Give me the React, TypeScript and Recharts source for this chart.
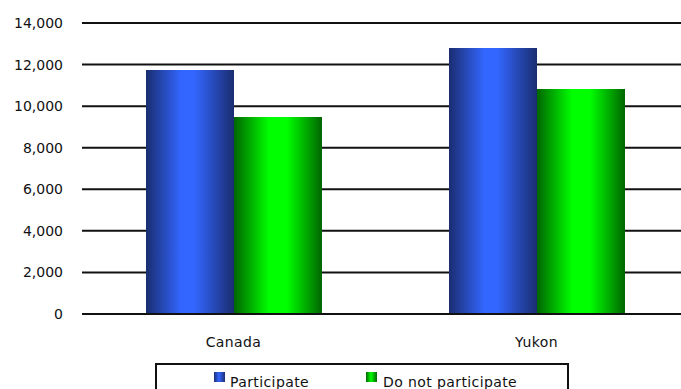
import { Bar, BarChart, CartesianGrid, XAxis, YAxis } from "recharts";

const categories = ["Canada", "Yukon"];
const participate = [11740, 12800];
const doNotParticipate = [9480, 10820];
const yTicks = [0, 2000, 4000, 6000, 8000, 10000, 12000, 14000];

const data = categories.map((name, i) => ({
  name,
  participate: participate[i],
  doNot: doNotParticipate[i],
}));

const FONT = "'DejaVu Sans', sans-serif";

function LegendBox() {
  return (
    <div
      style={{
        position: "absolute",
        left: 155,
        top: 363,
        width: 410,
        height: 40,
        border: "2px solid #111",
        fontFamily: FONT,
        fontSize: 14,
        color: "#111",
      }}
    >
      <div
        style={{
          position: "absolute",
          left: 57,
          top: 7,
          width: 11,
          height: 10,
          background: "linear-gradient(to right, #1c2f73, #3366ff 45%, #1c2f73)",
        }}
      />
      <span style={{ position: "absolute", left: 73, top: 9, whiteSpace: "nowrap", letterSpacing: 0.4 }}>
        Participate
      </span>
      <div
        style={{
          position: "absolute",
          left: 209,
          top: 7,
          width: 11,
          height: 10,
          background: "linear-gradient(to right, #006600, #00ff00 45%, #006600)",
        }}
      />
      <span style={{ position: "absolute", left: 226, top: 9, whiteSpace: "nowrap", letterSpacing: 0.4 }}>
        Do not participate
      </span>
    </div>
  );
}

export default function App() {
  return (
    <div
      style={{
        position: "absolute",
        left: 0,
        top: 0,
        width: 681,
        height: 389,
        overflow: "hidden",
        background: "#fff",
      }}
    >
      <BarChart
        width={700}
        height={389}
        data={data}
        margin={{ top: 23, right: 12, left: 0, bottom: 0 }}
        barCategoryGap={64}
        barGap={0}
        style={{ fontFamily: FONT }}
      >
        <defs>
          <linearGradient id="gradBlue" x1="0" y1="0" x2="1" y2="0">
            <stop offset="0%" stopColor="#1a2d70" />
            <stop offset="40%" stopColor="#3366ff" />
            <stop offset="55%" stopColor="#3366ff" />
            <stop offset="100%" stopColor="#1a2d70" />
          </linearGradient>
          <linearGradient id="gradGreen" x1="0" y1="0" x2="1" y2="0">
            <stop offset="0%" stopColor="#006600" />
            <stop offset="40%" stopColor="#00ff00" />
            <stop offset="60%" stopColor="#00ff00" />
            <stop offset="100%" stopColor="#006600" />
          </linearGradient>
        </defs>
        <CartesianGrid vertical={false} stroke="#111" strokeWidth={2} />
        <XAxis
          dataKey="name"
          height={75}
          tickLine={false}
          axisLine={{ stroke: "#111", strokeWidth: 2 }}
          tickSize={6}
          tickMargin={17}
          tick={{ fontSize: 14, fill: "#111", letterSpacing: 0.4 }}
        />
        <YAxis
          width={82}
          domain={[0, 14000]}
          ticks={yTicks}
          interval={0}
          axisLine={false}
          tickLine={false}
          tickSize={10}
          tickMargin={9}
          tickFormatter={(v) => Number(v).toLocaleString("en-US")}
          tick={{ fontSize: 14, fill: "#111" }}
        />
        <Bar dataKey="participate" fill="url(#gradBlue)" isAnimationActive={false} />
        <Bar dataKey="doNot" fill="url(#gradGreen)" isAnimationActive={false} />
      </BarChart>
      <LegendBox />
    </div>
  );
}
